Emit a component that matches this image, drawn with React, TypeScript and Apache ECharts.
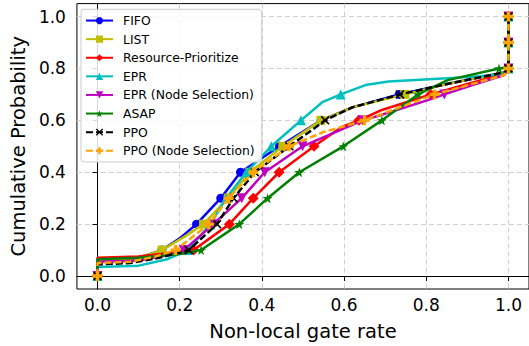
import React, { useEffect, useRef } from "react";
import * as echarts from "echarts";

const FONT = "DejaVu Sans";

const seriesNames = [
  "FIFO",
  "LIST",
  "Resource-Prioritize",
  "EPR",
  "EPR (Node Selection)",
  "ASAP",
  "PPO",
  "PPO (Node Selection)",
];

const xTicks = [0, 0.2, 0.4, 0.6, 0.8, 1.0];
const yTicks = [0, 0.2, 0.4, 0.6, 0.8, 1.0];

// FIFO
const fifoX = [0, 0, 0.08, 0.12, 0.157, 0.2, 0.241, 0.3, 0.348, 0.443, 0.544, 0.62, 0.734, 0.85, 0.99, 1, 1, 1];
const fifoY = [0, 0.06, 0.065, 0.08, 0.1, 0.145, 0.2, 0.3, 0.4, 0.5, 0.6, 0.65, 0.7, 0.74, 0.785, 0.8, 0.9, 1];
// LIST
const listX = [0, 0, 0.08, 0.12, 0.157, 0.21, 0.258, 0.318, 0.371, 0.451, 0.544, 0.62, 0.748, 0.85, 0.99, 1, 1, 1];
const listY = [0, 0.06, 0.065, 0.08, 0.1, 0.15, 0.2, 0.3, 0.4, 0.5, 0.6, 0.65, 0.7, 0.74, 0.785, 0.8, 0.9, 1];
// Resource-Prioritize
const resX = [0, 0, 0.1, 0.18, 0.234, 0.321, 0.379, 0.442, 0.527, 0.596, 0.636, 0.692, 0.811, 0.9, 0.99, 1, 1, 1];
const resY = [0, 0.07, 0.075, 0.09, 0.1, 0.2, 0.3, 0.4, 0.5, 0.576, 0.6, 0.64, 0.7, 0.74, 0.78, 0.8, 0.9, 1];
// EPR
const eprX = [0, 0, 0.1, 0.17, 0.22, 0.275, 0.313, 0.362, 0.423, 0.495, 0.547, 0.592, 0.652, 0.708, 0.85, 0.932, 0.99, 1, 1, 1];
const eprY = [0, 0.035, 0.04, 0.065, 0.1, 0.2, 0.3, 0.4, 0.5, 0.6, 0.67, 0.7, 0.736, 0.75, 0.762, 0.77, 0.78, 0.8, 0.9, 1];
// EPR (Node Selection)
const eprNsX = [0, 0, 0.1, 0.17, 0.21, 0.282, 0.351, 0.407, 0.499, 0.645, 0.676, 0.804, 0.844, 0.92, 0.99, 1, 1, 1];
const eprNsY = [0, 0.055, 0.06, 0.08, 0.1, 0.2, 0.3, 0.4, 0.5, 0.6, 0.614, 0.678, 0.7, 0.74, 0.775, 0.8, 0.9, 1];
// ASAP
const asapX = [0, 0, 0.1, 0.2, 0.252, 0.345, 0.414, 0.491, 0.598, 0.692, 0.78, 0.852, 0.977, 1, 1, 1];
const asapY = [0, 0.065, 0.07, 0.085, 0.1, 0.2, 0.3, 0.4, 0.5, 0.6, 0.7, 0.755, 0.8, 0.805, 0.9, 1];
// PPO
const ppoX = [0, 0, 0.08, 0.15, 0.222, 0.291, 0.331, 0.383, 0.467, 0.554, 0.62, 0.736, 0.85, 0.99, 1, 1, 1];
const ppoY = [0, 0.045, 0.05, 0.07, 0.1, 0.2, 0.3, 0.4, 0.5, 0.6, 0.65, 0.7, 0.74, 0.785, 0.8, 0.9, 1];
// PPO (Node Selection)
const ppoNsX = [0, 0, 0.08, 0.14, 0.19, 0.271, 0.319, 0.379, 0.466, 0.55, 0.65, 0.82, 0.9, 0.99, 1, 1, 1];
const ppoNsY = [0, 0.05, 0.055, 0.075, 0.1, 0.2, 0.3, 0.4, 0.5, 0.555, 0.6, 0.7, 0.735, 0.775, 0.8, 0.9, 1];

const STAR = "path://M50,0 L61,35 L98,35 L68,57 L79,91 L50,70 L21,91 L32,57 L2,35 L39,35 Z";
const TRI_DOWN = "path://M0,0 L10,0 L5,10 Z";
const XMARK = "path://M0,1.3 L1.3,0 L5,3.7 L8.7,0 L10,1.3 L6.3,5 L10,8.7 L8.7,10 L5,6.3 L1.3,10 L0,8.7 L3.7,5 Z";
const PLUS = "path://M3.3,0 H6.7 V3.3 H10 V6.7 H6.7 V10 H3.3 V6.7 H0 V3.3 H3.3 Z";

const styles = [
  { color: "#0000ff", symbol: "circle", size: 9, dash: null },
  { color: "#bfbf00", symbol: "rect", size: 9, dash: null },
  { color: "#ff0000", symbol: "diamond", size: 11, dash: null },
  { color: "#00bfbf", symbol: "triangle", size: 10, dash: null },
  { color: "#bf00bf", symbol: TRI_DOWN, size: 10, dash: null },
  { color: "#008000", symbol: STAR, size: 10, dash: null },
  { color: "#000000", symbol: XMARK, size: 9, dash: [7, 3] },
  { color: "#ffa500", symbol: PLUS, size: 10, dash: [7, 3] },
];

const allX = [fifoX, listX, resX, eprX, eprNsX, asapX, ppoX, ppoNsX];
const allY = [fifoY, listY, resY, eprY, eprNsY, asapY, ppoY, ppoNsY];

function buildData(xs: number[], ys: number[]) {
  return xs.map((x, i) => {
    const y = ys[i];
    const isMark = Math.abs(y * 10 - Math.round(y * 10)) < 1e-6;
    return isMark ? { value: [x, y] } : { value: [x, y], symbol: "none" };
  });
}

export default function App() {
  const ref = useRef<HTMLDivElement>(null);
  useEffect(() => {
    if (!ref.current) return;
    const chart = echarts.init(ref.current, null, { renderer: "svg" });
    const series = seriesNames.map((name, i) => {
      const s = styles[i];
      return {
        type: "line",
        name,
        data: buildData(allX[i], allY[i]),
        symbol: s.symbol,
        symbolSize: s.size,
        showSymbol: true,
        color: s.color,
        itemStyle: { color: s.color, borderWidth: 0 },
        lineStyle: { color: s.color, width: 2.5, type: s.dash ? s.dash : "solid" },
        emphasis: { disabled: true },
        clip: false,
        z: 2 + i * 0.01,
      };
    });
    const axisCommon = {
      axisLine: { show: true, lineStyle: { color: "#000", width: 1 } },
      axisTick: { show: true, length: 5, inside: false, lineStyle: { color: "#000", width: 1 } },
      splitLine: { show: true, lineStyle: { color: "#cfcfcf", width: 1, type: [5, 3] } },
    };
    chart.setOption({
      animation: false,
      backgroundColor: "#ffffff",
      grid: {
        left: 75,
        top: 3.6,
        width: 457,
        height: 288,
        show: true,
        borderColor: "#000",
        borderWidth: 1,
        backgroundColor: "transparent",
      },
      legend: {
        orient: "vertical",
        left: 81,
        top: 9.3,
        itemWidth: 27,
        itemHeight: 9,
        itemGap: 6.1,
        padding: [5, 7, 5, 4],
        backgroundColor: "rgba(255,255,255,0.85)",
        borderColor: "#cccccc",
        borderWidth: 1,
        borderRadius: 3,
        textStyle: { fontFamily: FONT, fontSize: 12.4, color: "#000", lineHeight: 12.5, padding: [0, 0, 0, 5] },
        data: seriesNames,
      },
      xAxis: {
        type: "value",
        min: -0.05,
        max: 1.05,
        ...axisCommon,
        axisTick: { ...axisCommon.axisTick, customValues: xTicks },
        axisLabel: {
          customValues: xTicks,
          formatter: (v: number) => v.toFixed(1),
          fontFamily: FONT,
          fontSize: 17,
          color: "#000",
          margin: 7,
        },
        name: "Non-local gate rate",
        nameLocation: "middle",
        nameGap: 32,
        nameTextStyle: { fontFamily: FONT, fontSize: 19.5, color: "#000" },
      },
      yAxis: {
        type: "value",
        min: -0.05,
        max: 1.05,
        ...axisCommon,
        axisTick: { ...axisCommon.axisTick, customValues: yTicks },
        axisLabel: {
          customValues: yTicks,
          formatter: (v: number) => v.toFixed(1),
          fontFamily: FONT,
          fontSize: 17,
          color: "#000",
          margin: 11,
        },
        name: "Cumulative Probability",
        nameLocation: "middle",
        nameGap: 41,
        nameTextStyle: { fontFamily: FONT, fontSize: 19.5, color: "#000" },
      },
      series,
    });
    return () => chart.dispose();
  }, []);
  return (
    <div
      ref={ref}
      style={{ position: "absolute", left: 0, top: 0, width: 529, height: 346 }}
    />
  );
}
